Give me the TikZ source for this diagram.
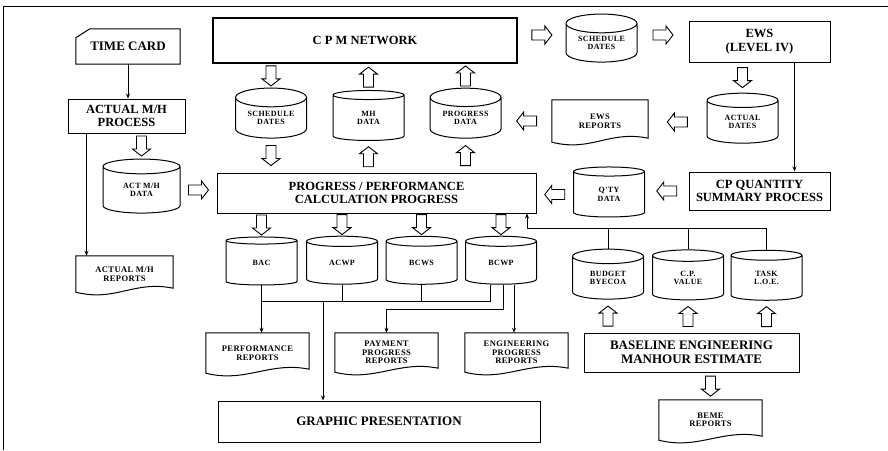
\documentclass[tikz,border=0pt]{standalone}
\usepackage{fontspec}
\setmainfont{Liberation Serif}
\newfontfamily\smallf[LetterSpace=5]{Liberation Serif}
\usetikzlibrary{shapes.geometric,arrows.meta,calc}
\tikzset{
  every node/.style={inner sep=0pt},
  bl/.style={line width=1pt},
  box/.style={draw, bl, align=center, font=\bfseries\fontsize{12.5}{13.5}\selectfont},
  db/.style={cylinder, shape border rotate=90, draw, bl, aspect=0.4,
    minimum width=71pt, minimum height=50pt, align=center,
    font=\smallf\bfseries\fontsize{8}{8.5}\selectfont},
  docn/.style={align=center, font=\smallf\bfseries\fontsize{8.5}{8.5}\selectfont},
  ln/.style={line width=0.8pt},
  arr/.style={ln, -{Stealth[length=5pt,width=4pt]}},
  pics/harrow/.style={code={\draw[line width=0.9pt, fill=white, line join=miter]
    (-10,-5) -- (3,-5) -- (3,-9) -- (10,0) -- (3,9) -- (3,5) -- (-10,5) -- cycle;}},
  ha/.style={midway, sloped, allow upside down},
}
\newcommand\docpath[1]{\draw[bl] (#1.north west) -- (#1.north east) -- ($(#1.south east)+(0,-4)$)
  .. controls ($(#1.south east)+(-40,-12)$) and ($(#1.south west)+(40,10)$) .. (#1.south west) -- cycle;}
\begin{document}
\begin{tikzpicture}[x=1pt,y=-1pt]
\useasboundingbox (0,0) rectangle (888,450);
\draw[ln] (3,450) -- (3,6) -- (888,6);

% boxes
\node[font=\bfseries\fontsize{13}{14}\selectfont, minimum width=104pt, minimum height=35pt] (tc) at (128,46.5) {TIME CARD};
\draw[bl] ($(tc.north west)+(0,9)$) -- ($(tc.north west)+(14,0)$) -- (tc.north east) -- (tc.south east) -- (tc.south west) -- cycle;
\node[box, minimum width=117pt, minimum height=34pt] (amh) at (126.5,116) {ACTUAL M/H\\PROCESS};
\node[box, line width=2.6pt, minimum width=304pt, minimum height=45pt] (cpm) at (365,40.5) {C P M NETWORK};
\node[box, minimum width=141pt, minimum height=41pt] (ews) at (759.5,41.5) {EWS\\(LEVEL IV)};
\node[box, minimum width=319pt, minimum height=40pt] (prog) at (376.5,193) {PROGRESS / PERFORMANCE\\CALCULATION PROGRESS};
\node[box, minimum width=141pt, minimum height=38pt] (cpq) at (759.5,191) {CP QUANTITY\\SUMMARY PROCESS};
\node[box, font=\bfseries\fontsize{13}{14}\selectfont, minimum width=322pt, minimum height=41pt] (gp) at (379,421.5) {GRAPHIC PRESENTATION};
\node[box, font=\bfseries\fontsize{13}{14}\selectfont, minimum width=215pt, minimum height=39pt] (beb) at (691.5,352.5) {BASELINE ENGINEERING\\MANHOUR ESTIMATE};

% cylinders
\node[db] (sd1) at (271,118) {SCHEDULE\\DATES};
\node[db] (mh) at (368.5,118) {MH\\DATA};
\node[db] (pd) at (465.5,118) {PROGRESS\\DATA};
\node[db, minimum height=48pt] (sd2) at (601.5,43) {SCHEDULE\\DATES};
\node[db] (ad) at (742.5,122) {ACTUAL\\DATES};
\node[db, minimum width=77pt, minimum height=54pt] (amhd) at (141.5,190) {ACT M/H\\DATA};
\node[db] (qty) at (609,194.5) {Q'TY\\DATA};
\node[db, minimum height=48pt] (bac) at (261.5,263) {BAC};
\node[db, minimum height=48pt] (acwp) at (342,263) {ACWP};
\node[db, minimum height=48pt] (bcws) at (421.5,263) {BCWS};
\node[db, minimum height=48pt] (bcwp) at (501,263) {BCWP};
\node[db] (bud) at (608,278) {BUDGET\\BYECOA};
\node[db] (cpv) at (688,278) {C.P.\\VALUE};
\node[db] (task) at (766.5,278) {TASK\\L.O.E.};

% documents
\node[docn, minimum width=97pt, minimum height=36pt] (amhr) at (124.5,274) {ACTUAL M/H\\REPORTS};
\node[docn, minimum width=96pt, minimum height=42pt] (ewsr) at (600,121) {EWS\\REPORTS};
\node[docn, minimum width=103pt, minimum height=40pt] (perf) at (257.5,353) {PERFORMANCE\\REPORTS};
\node[docn, minimum width=103pt, minimum height=39pt] (pay) at (386.5,352.5) {PAYMENT\\PROGRESS\\REPORTS};
\node[docn, minimum width=103pt, minimum height=39pt] (eng) at (516.5,352.5) {ENGINEERING\\PROGRESS\\REPORTS};
\node[docn, minimum width=103pt, minimum height=40pt] (beme) at (710.5,420) {BEME\\REPORTS};
\docpath{amhr}\docpath{ewsr}\docpath{perf}\docpath{pay}\docpath{eng}\docpath{beme}

% thin connectors
\draw[arr] (tc.south) -- (tc.south |- amh.north);
\coordinate (a1) at ($(amh.south west)+(19,0)$);
\draw[arr] (a1) -- (a1 |- amhr.north);
\coordinate (e1) at ($(ews.south east)+(-36,0)$);
\draw[arr] (e1) -- (e1 |- cpq.north);
\coordinate (qb) at (527,228);
\draw[arr] (task.north) |- (qb) -- (qb |- prog.south);
\draw[ln] (bud.north) -- (bud.north |- qb);
\draw[ln] (cpv.north) -- (cpv.north |- qb);
\coordinate (bb) at (323,301);
\coordinate (w1) at ($(bcwp.south)+(-11,0)$);
\draw[ln] (w1) |- (bac.south |- bb);
\draw[arr] (bac.south) -- (bac.south |- perf.north);
\draw[ln] (acwp.south) -- (acwp.south |- bb);
\draw[ln] (bcws.south) -- (bcws.south |- bb);
\draw[arr] (bb) -- (bb |- gp.north);
\draw[arr] ($(bcwp.south)+(2,0)$) |- ($(pay.north)+(0,-23)$) -- (pay.north);
\coordinate (w3) at ($(bcwp.south)+(13,0)$);
\draw[arr] (w3) -- (w3 |- eng.north);

% hollow arrows
\path (amh.south -| amhd.north) -- (amhd.north) pic[ha]{harrow};
\path (amhd.east) -- (prog.west |- amhd.east) pic[ha]{harrow};
\path (cpm.south -| sd1.north) -- (sd1.north) pic[ha]{harrow};
\path (mh.north) -- (mh.north |- cpm.south) pic[ha]{harrow};
\path (pd.north) -- (pd.north |- cpm.south) pic[ha]{harrow};
\path (sd1.south) -- (sd1.south |- prog.north) pic[ha]{harrow};
\path (mh.south |- prog.north) -- (mh.south) pic[ha]{harrow};
\path (pd.south |- prog.north) -- (pd.south) pic[ha]{harrow};
\path (cpm.east |- 0,35) -- (sd2.west |- 0,35) pic[ha]{harrow};
\path (sd2.east |- 0,35) -- (ews.west |- 0,35) pic[ha]{harrow};
\path (ews.south -| ad.north) -- (ad.north) pic[ha]{harrow};
\path (ad.west) -- (ewsr.east |- ad.west) pic[ha]{harrow};
\path (ewsr.west) -- (pd.east |- ewsr.west) pic[ha]{harrow};
\path (cpq.west) -- (qty.east |- cpq.west) pic[ha]{harrow};
\path (qty.west) -- (prog.east |- qty.west) pic[ha]{harrow};
\path (prog.south -| bac.north) -- (bac.north) pic[ha]{harrow};
\path (prog.south -| acwp.north) -- (acwp.north) pic[ha]{harrow};
\path (prog.south -| bcws.north) -- (bcws.north) pic[ha]{harrow};
\path (prog.south -| bcwp.north) -- (bcwp.north) pic[ha]{harrow};
\path (bud.south |- beb.north) -- (bud.south) pic[ha]{harrow};
\path (cpv.south |- beb.north) -- (cpv.south) pic[ha]{harrow};
\path (task.south |- beb.north) -- (task.south) pic[ha]{harrow};
\path (beb.south -| beme.north) -- (beme.north) pic[ha]{harrow};
\end{tikzpicture}
\end{document}
